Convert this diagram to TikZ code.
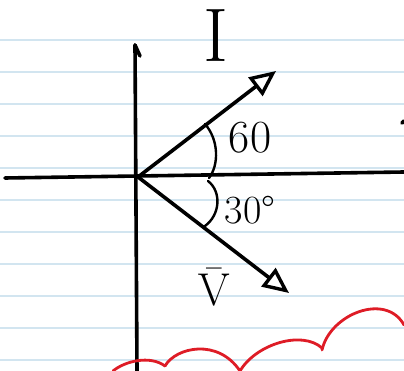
\RequirePackage{fix-cm}
\documentclass[tikz,border=0pt]{standalone}
\usetikzlibrary{arrows.meta}
\definecolor{ruleblue}{RGB}{210,229,240}
\definecolor{penred}{RGB}{222,28,38}
\tikzset{
  paperline/.style={ruleblue, line width=1.3pt},
  penline/.style={line width=3.6pt, line cap=round, line join=round},
  vecline/.style={penline, -{Triangle[open, length=26pt, width=23pt, line width=3.4pt]}},
  arcline/.style={line width=2.4pt, line cap=round},
  redline/.style={penred, line width=2.8pt, line cap=round},
  hand/.style={inner sep=0pt},
}
\begin{document}
\begin{tikzpicture}[x=1pt, y=-1pt]
\useasboundingbox (0,0) rectangle (404,371);
\foreach \yy in {40,72,...,360}
  \draw[paperline] (0,\yy) -- (404,\yy);
\coordinate (o) at (138,177);
\coordinate (xl) at (5,178);
\coordinate (xr) at (404,172);
\coordinate (yt) at (135,45);
\coordinate (yb) at (137,371);
\coordinate (itip) at (276,71);
\coordinate (vtip) at (289,293);
\draw[penline] (xl) -- (xr);
\draw[penline] (yt) -- (yb);
\draw[penline] (yt) -- ++(5,11);
\draw[vecline] (o) -- (itip);
\draw[vecline] (o) -- (vtip);
\draw[arcline] (205,124) .. controls (219,140) and (219,165) .. (209,178);
\draw[arcline] (208,181) .. controls (222,192) and (220,215) .. (205,226);
\draw[penline] (402,123) -- (404,121);
\node[hand, font=\fontsize{76}{76}\selectfont] (ilab) at (216,36) {I};
\node[hand, font=\fontsize{46}{46}\selectfont] (vlab) at (214,287) {$\bar{\mathrm{V}}$};
\node[hand, font=\fontsize{46}{46}\selectfont] (sixty) at (250,138) {60};
\node[hand, font=\fontsize{40}{40}\selectfont] (thirty) at (250,210) {30°};
\draw[redline] (113,371) .. controls (125,361) and (150,355) .. (165,366);
\draw[redline] (165,366) .. controls (176,347) and (218,338) .. (240,371);
\draw[redline] (240,371) .. controls (256,344) and (302,330) .. (322,348);
\draw[redline] (322,350) .. controls (330,314) and (386,292) .. (404,325);
\end{tikzpicture}
\end{document}
